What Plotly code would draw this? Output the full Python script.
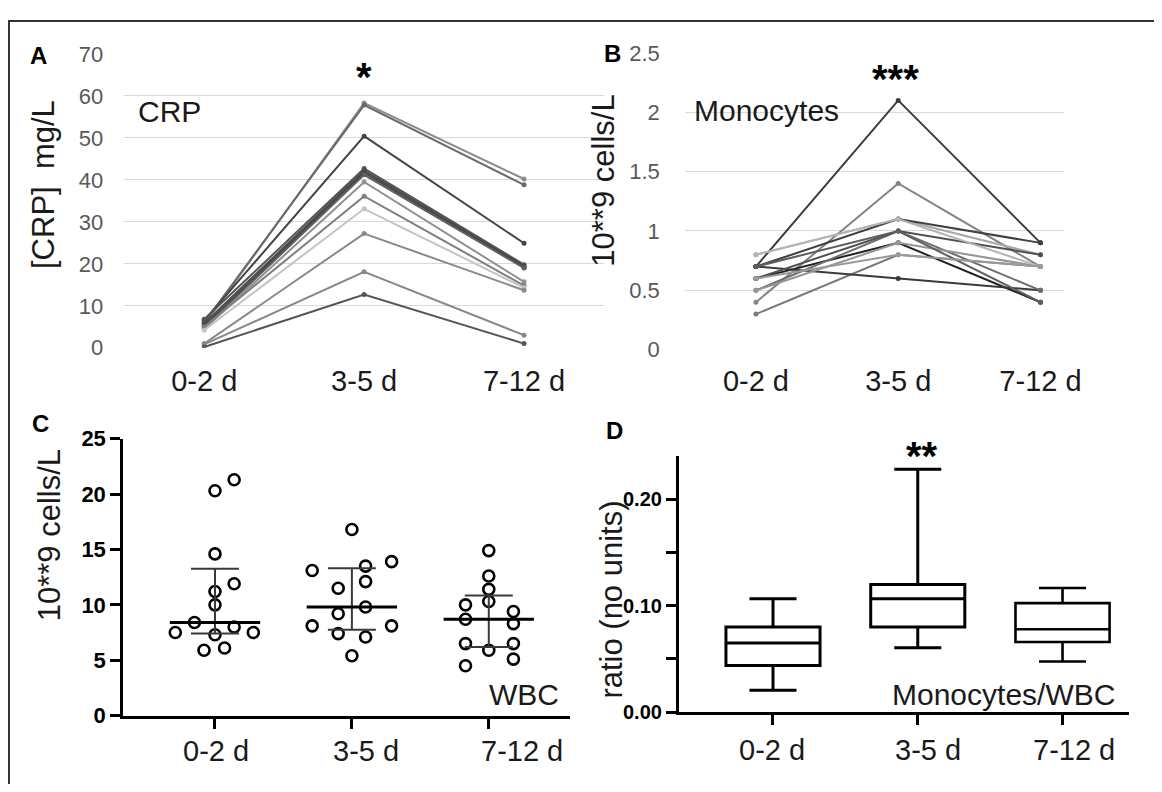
import numpy as np
import plotly.graph_objects as go

# The page keeps the browser's 8px body margin; the figure is sized so the
# whole page is exactly 1162x792.
PAGE_W, PAGE_H, OFF = 1162, 792, 8
W, H = PAGE_W - 2 * OFF, PAGE_H - 2 * OFF
FONT = "Arial, Liberation Sans, sans-serif"

categories = ["0-2 d", "3-5 d", "7-12 d"]

# Panel A: CRP (mg/L), one row per patient: 0-2 d, 3-5 d, 7-12 d
crp_d0 = [5.5, 6.0, 6.5, 6.8, 5.8, 5.2, 4.8, 4.5, 5.0, 4.2, 1.0, 0.8, 0.2]
crp_d3 = [58.3, 57.8, 50.4, 42.7, 42.2, 41.7, 41.2, 39.5, 36.1, 33.1, 27.2, 18.1, 12.7]
crp_d7 = [40.2, 38.8, 24.9, 19.8, 19.5, 19.2, 19.0, 15.7, 14.8, 14.3, 13.7, 3.0, 1.0]
crp_colors = ["#8c8c8c", "#6a6a6a", "#444444", "#555555", "#4d4d4d", "#444444", "#606060",
              "#909090", "#7f7f7f", "#c4c4c4", "#8a8a8a", "#888888", "#555555"]

# Panel B: Monocytes (10**9 cells/L)
mono_d0 = [0.7, 0.4, 0.3, 0.8, 0.7, 0.6, 0.7, 0.5, 0.6, 0.5, 0.7, 0.8, 0.6]
mono_d3 = [2.1, 1.4, 0.8, 1.1, 1.1, 0.9, 0.6, 1.0, 1.0, 0.9, 1.0, 1.1, 0.8]
mono_d7 = [0.9, 0.7, 0.7, 0.8, 0.9, 0.4, 0.5, 0.5, 0.8, 0.7, 0.4, 0.7, 0.7]
mono_colors = ["#3c3c3c", "#848484", "#7a7a7a", "#a8a8a8", "#404040", "#222222", "#3a3a3a",
               "#6e6e6e", "#505050", "#959595", "#5e5e5e", "#b4b4b4", "#9a9a9a"]

# Panel C: WBC (10**9 cells/L)
wbc_d0 = [20.3, 21.3, 14.6, 11.9, 11.2, 10.0, 8.4, 8.0, 7.5, 7.3, 7.5, 5.9, 6.1]
wbc_d3 = [16.8, 13.1, 13.5, 13.9, 12.1, 11.5, 9.8, 9.2, 8.1, 8.1, 7.4, 7.1, 5.4]
wbc_d7 = [14.9, 12.6, 11.4, 10.3, 10.0, 9.4, 8.7, 8.3, 6.5, 6.5, 5.9, 4.5, 5.1]
# horizontal scatter offsets of the dots (layout only)
wbc_jit0 = [0.0, 0.14, 0.0, 0.14, 0.0, 0.0, -0.15, 0.14, -0.29, 0.0, 0.28, -0.08, 0.07]
wbc_jit3 = [0.0, -0.29, 0.10, 0.29, 0.10, -0.10, 0.10, -0.10, -0.29, 0.29, -0.10, 0.10, 0.0]
wbc_jit7 = [0.0, 0.0, 0.0, 0.0, -0.17, 0.18, -0.17, 0.18, -0.17, 0.18, 0.0, -0.17, 0.18]

# Panel D: Monocytes/WBC ratio box stats
ratio_min = [0.0206, 0.0606, 0.0476]
ratio_q1 = [0.044, 0.080, 0.066]
ratio_med = [0.065, 0.1066, 0.0779]
ratio_q3 = [0.080, 0.120, 0.1024]
ratio_max = [0.1066, 0.228, 0.1166]


def px(x):
    return (x - OFF) / W


def py(y):
    return 1 - (y - OFF) / H


fig = go.Figure()

# ---------- Panel A ----------
for a, b, c, col in zip(crp_d0, crp_d3, crp_d7, crp_colors):
    fig.add_trace(go.Scatter(x=[0, 1, 2], y=[a, b, c], mode="lines+markers",
                             line=dict(color=col, width=2), marker=dict(color=col, size=5),
                             xaxis="x", yaxis="y", showlegend=False, hoverinfo="skip"))

# ---------- Panel B ----------
for a, b, c, col in zip(mono_d0, mono_d3, mono_d7, mono_colors):
    fig.add_trace(go.Scatter(x=[0, 1, 2], y=[a, b, c], mode="lines+markers",
                             line=dict(color=col, width=2), marker=dict(color=col, size=5),
                             xaxis="x2", yaxis="y2", showlegend=False, hoverinfo="skip"))

# ---------- Panel C ----------
groups = [wbc_d0, wbc_d3, wbc_d7]
jits = [wbc_jit0, wbc_jit3, wbc_jit7]
for i, (vals, jit) in enumerate(zip(groups, jits)):
    fig.add_trace(go.Scatter(x=[i + j for j in jit], y=vals, mode="markers",
                             marker=dict(symbol="circle-open", size=11, color="black",
                                         line=dict(width=2.6, color="black")),
                             xaxis="x3", yaxis="y3", showlegend=False, hoverinfo="skip"))
meds = [float(np.median(g)) for g in groups]
q1s = [float(np.percentile(g, 25, method="weibull")) for g in groups]
q3s = [float(np.percentile(g, 75, method="weibull")) for g in groups]
fig.add_trace(go.Scatter(
    x=[0, 1, 2], y=meds, mode="markers", marker=dict(size=1, color="rgba(0,0,0,0)"),
    error_y=dict(type="data", symmetric=False,
                 array=[q3 - m for q3, m in zip(q3s, meds)],
                 arrayminus=[m - q1 for m, q1 in zip(meds, q1s)],
                 color="#3a3a3a", thickness=2, width=24),
    error_x=dict(type="constant", value=0.33, color="black", thickness=3, width=0),
    xaxis="x3", yaxis="y3", showlegend=False, hoverinfo="skip"))

# ---------- Panel D ----------
for i in range(3):
    fig.add_trace(go.Box(
        x=[i], q1=[ratio_q1[i]], median=[ratio_med[i]], q3=[ratio_q3[i]],
        lowerfence=[ratio_min[i]], upperfence=[ratio_max[i]],
        width=0.65, whiskerwidth=0.5, fillcolor="white",
        line=dict(color="black", width=3 if i < 2 else 2.6),
        xaxis="x4", yaxis="y4", showlegend=False, hoverinfo="skip", boxpoints=False))

grid_col = "#d9d9d9"
tick_gray = dict(family=FONT, size=22, color="#595959")
cat_font = dict(family=FONT, size=29, color="#1a1a1a")

fig.update_layout(
    width=W, height=H, margin=dict(l=0, r=0, t=0, b=0),
    paper_bgcolor="white", plot_bgcolor="rgba(0,0,0,0)",
    font=dict(family=FONT, color="#1a1a1a"),
    xaxis=dict(domain=[px(126), px(613)], range=[-0.5, 2.5], tickvals=[0, 1, 2],
               ticktext=categories, tickfont=cat_font, showgrid=False, zeroline=False,
               showline=False, ticks="", ticklabelstandoff=13, anchor="y"),
    yaxis=dict(domain=[py(346.7), py(43)], range=[0, 70], tickvals=list(range(0, 71, 10)),
               tickfont=tick_gray, gridcolor=grid_col, gridwidth=1, zeroline=False,
               showline=False, ticks="", ticklabelstandoff=20, anchor="x"),
    xaxis2=dict(domain=[px(695), px(1080)], range=[-0.5, 2.166], tickvals=[0, 1, 2],
                ticktext=categories, tickfont=cat_font, showgrid=False, zeroline=False,
                showline=False, ticks="", ticklabelstandoff=11, anchor="y2"),
    yaxis2=dict(domain=[py(348.7), py(42)], range=[0, 2.5],
                tickvals=[0, 0.5, 1, 1.5, 2, 2.5], ticktext=["0", "0.5", "1", "1.5", "2", "2.5"],
                tickfont=tick_gray, gridcolor=grid_col, gridwidth=1, zeroline=False,
                showline=False, ticks="", ticklabelstandoff=24, anchor="x2"),
    xaxis3=dict(domain=[px(125), px(578)], range=[-0.67, 2.59], tickvals=[0, 1, 2],
                showticklabels=False, showgrid=False, zeroline=False, showline=True,
                linecolor="black", linewidth=3, ticks="outside", ticklen=10, tickwidth=3,
                tickcolor="black", anchor="y3"),
    yaxis3=dict(domain=[py(726.7), py(440.7)], range=[0, 25], tickvals=[0, 5, 10, 15, 20, 25],
                tickfont=dict(family=FONT, size=22, color="black", weight="bold"),
                showgrid=False, zeroline=False, showline=True, linecolor="black", linewidth=3,
                ticks="outside", ticklen=10, tickwidth=3, tickcolor="black", anchor="x3"),
    xaxis4=dict(domain=[px(689), px(1146)], range=[-0.65, 2.46], tickvals=[0, 1, 2],
                showticklabels=False, showgrid=False, zeroline=False, showline=True,
                linecolor="black", linewidth=3, ticks="outside", ticklen=10, tickwidth=3,
                tickcolor="black", anchor="y4"),
    yaxis4=dict(domain=[py(723.3), py(458)], range=[0, 0.241],
                tickvals=[0, 0.05, 0.1, 0.15, 0.2], ticktext=["0.00", "", "0.10", "", "0.20"],
                tickfont=dict(family=FONT, size=20, color="black", weight="bold"),
                showgrid=False, zeroline=False, showline=True, linecolor="black", linewidth=3,
                ticks="outside", ticklen=10, tickwidth=3, tickcolor="black", anchor="x4"),
)

anns = []


def ann(text, x, y, size, bold=False, angle=0, color="#1a1a1a"):
    anns.append(dict(text=text, x=px(x), y=py(y), xref="paper", yref="paper",
                     showarrow=False, textangle=angle, xanchor="center", yanchor="middle",
                     font=dict(family=FONT, size=size, color=color,
                               weight="bold" if bold else "normal")))


ann("A", 39, 45, 24, bold=True, color="black")
ann("B", 622, 43, 24, bold=True, color="black")
ann("C", 41, 425, 24, bold=True, color="black")
ann("D", 624, 432, 24, bold=True, color="black")
ann("CRP", 172, 103, 30)
ann("Monocytes", 778, 102, 30)
ann("WBC", 532, 705, 30)
ann("Monocytes/WBC", 1018, 705, 30)
ann("*", 369, 67, 40, bold=True, color="black")
ann("***", 909, 69, 40, bold=True, color="black")
ann("**", 936, 458, 40, bold=True, color="black")
ann("[CRP]  mg/L", 44, 178, 31, angle=-90)
ann("10**9 cells/L", 613, 174, 31, angle=-90)
ann("10**9 cells/L", 50, 540, 31, angle=-90)
ann("ratio (no units)", 621, 607, 31, angle=-90)

# category labels for C and D (placed under the columns)
for cat, off in zip(categories, [0.01, 1.10, 2.24]):
    anns.append(dict(text=cat, x=off, y=py(763), xref="x3", yref="paper", showarrow=False,
                     xanchor="center", yanchor="middle", font=cat_font))
for cat, off in zip(categories, [-0.01, 1.07, 2.08]):
    anns.append(dict(text=cat, x=off, y=py(762), xref="x4", yref="paper", showarrow=False,
                     xanchor="center", yanchor="middle", font=cat_font))

fig.update_layout(annotations=anns)

fig.add_shape(type="rect", xref="paper", yref="paper", x0=px(9), x1=1.02, y0=-0.02, y1=py(9),
              line=dict(color="#333333", width=2), fillcolor="rgba(0,0,0,0)", layer="above")

fig.write_html("out.html", config={"displayModeBar": False})
